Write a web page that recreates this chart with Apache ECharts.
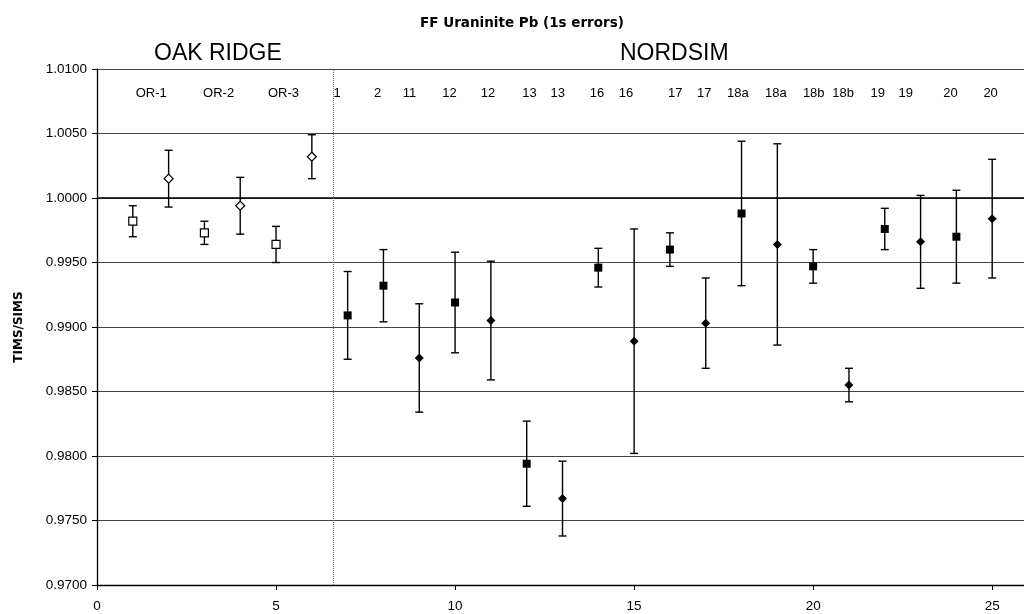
<!DOCTYPE html>
<html>
<head>
<meta charset="utf-8">
<script src="https://cdn.jsdelivr.net/npm/echarts@6/dist/echarts.min.js"></script>
<style>html,body{margin:0;padding:0;background:#fff;}#c{width:1024px;height:614px;}</style>
</head>
<body>
<div id="c"></div>
<script>
// ---- data ----
const xTicks = [0, 5, 10, 15, 20, 25];
const yTicks = [0.9700, 0.9750, 0.9800, 0.9850, 0.9900, 0.9950, 1.0000, 1.0050, 1.0100];
// [x, TIMS/SIMS, 1s error]
const oakRidgeSquares = [[1, 0.9982, 0.0012], [3, 0.9973, 0.0009], [5, 0.9964, 0.0014]];
const oakRidgeDiamonds = [[2, 1.0015, 0.0022], [4, 0.9994, 0.0022], [6, 1.0032, 0.0017]];
const nordsimSquares = [[7, 0.9909, 0.0034], [8, 0.9932, 0.0028], [10, 0.9919, 0.0039], [12, 0.9794, 0.0033],
  [14, 0.9946, 0.0015], [16, 0.9960, 0.0013], [18, 0.9988, 0.0056], [20, 0.9947, 0.0013],
  [22, 0.9976, 0.0016], [24, 0.9970, 0.0036]];
const nordsimDiamonds = [[9, 0.9876, 0.0042], [11, 0.9905, 0.0046], [13, 0.9767, 0.0029], [15, 0.9889, 0.0087],
  [17, 0.9903, 0.0035], [19, 0.9964, 0.0078], [21, 0.9855, 0.0013], [23, 0.9966, 0.0036], [25, 0.9984, 0.0046]];
const sampleLabels = ['OR-1', 'OR-2', 'OR-3', '1', '2', '11', '12', '12', '13', '13', '16', '16',
  '17', '17', '18a', '18a', '18b', '18b', '19', '19', '20', '20'];
const sampleLabelX = [1.53, 3.41, 5.22, 6.72, 7.85, 8.74, 9.86, 10.93, 12.09, 12.88, 13.98, 14.79,
  16.16, 16.97, 17.91, 18.97, 20.03, 20.85, 21.82, 22.6, 23.85, 24.97];
const groupLabels = ['OAK RIDGE', 'NORDSIM'];
const dividerX = 6.6;
const referenceY = 1.0000;

const FONT = '"Liberation Sans", Arial, sans-serif';
const WIDE = '"DejaVu Sans", sans-serif';

function errorSeries(data) {
  return {
    type: 'custom',
    data: data,
    z: 3,
    clip: false,
    renderItem: function (params, api) {
      const x = api.value(0), y = api.value(1), e = api.value(2);
      const hi = api.coord([x, y + e]);
      const lo = api.coord([x, y - e]);
      const w = 4;
      const style = { stroke: '#000', lineWidth: 1.4 };
      return {
        type: 'group',
        children: [
          { type: 'line', shape: { x1: hi[0], y1: hi[1], x2: lo[0], y2: lo[1] }, style: style },
          { type: 'line', shape: { x1: hi[0] - w, y1: hi[1], x2: hi[0] + w, y2: hi[1] }, style: style },
          { type: 'line', shape: { x1: lo[0] - w, y1: lo[1], x2: lo[0] + w, y2: lo[1] }, style: style }
        ]
      };
    }
  };
}

function pointSeries(data, symbol, size, filled) {
  return {
    type: 'scatter',
    data: data.map(d => [d[0], d[1]]),
    symbol: symbol,
    symbolSize: size,
    z: 5,
    itemStyle: filled ? { color: '#000', opacity: 1 } : { color: '#fff', borderColor: '#000', borderWidth: 1.2, opacity: 1 }
  };
}

const chart = echarts.init(document.getElementById('c'), null, { renderer: 'canvas' });
chart.setOption({
  animation: false,
  backgroundColor: '#fff',
  title: {
    text: 'FF Uraninite Pb (1s errors)',
    left: 517, top: 11, textAlign: 'center',
    textStyle: { fontFamily: WIDE, fontSize: 13.5, fontWeight: 'bold', color: '#000' }
  },
  graphic: [
    { type: 'text', left: 154, top: 42, style: { text: groupLabels[0], font: '23px ' + FONT, fill: '#000' } },
    { type: 'text', left: 620, top: 42, style: { text: groupLabels[1], font: '23px ' + FONT, fill: '#000' } }
  ],
  grid: { left: 97, top: 69, width: 931, bottom: 29, outerBoundsMode: 'none' },
  xAxis: {
    type: 'value', min: 0, max: 26, interval: 5,
    axisLine: { show: true, lineStyle: { color: '#000', width: 1.3 } },
    axisTick: { show: true, length: 5, lineStyle: { color: '#000' } },
    axisLabel: {
      margin: 14, fontFamily: FONT, fontSize: 13.5, color: '#000',
      formatter: v => xTicks.includes(v) ? String(v) : ''
    },
    splitLine: { show: false }
  },
  yAxis: {
    type: 'value', min: 0.97, max: 1.01, interval: 0.005,
    name: 'TIMS/SIMS', nameLocation: 'middle', nameGap: 72,
    nameTextStyle: { fontFamily: WIDE, fontSize: 12, fontWeight: 'bold', color: '#000' },
    axisLine: { show: true, lineStyle: { color: '#000', width: 1.3 } },
    axisTick: { show: true, length: 5, lineStyle: { color: '#000' } },
    axisLabel: {
      margin: 10, fontFamily: FONT, fontSize: 13.5, color: '#000',
      formatter: v => {
        const t = yTicks.find(t => Math.abs(t - v) < 1e-9);
        return t === undefined ? '' : t.toFixed(4);
      }
    },
    splitLine: { show: true, lineStyle: { color: '#444', width: 1 } }
  },
  series: [
    {
      type: 'scatter', data: [], silent: true,
      markLine: {
        silent: true, symbol: 'none', label: { show: false },
        data: [
          { yAxis: referenceY, lineStyle: { color: '#000', width: 1.6, type: 'solid' } },
          { xAxis: dividerX, lineStyle: { color: '#777', width: 1, type: [1, 1] } }
        ]
      }
    },
    errorSeries(oakRidgeSquares),
    errorSeries(oakRidgeDiamonds),
    errorSeries(nordsimSquares),
    errorSeries(nordsimDiamonds),
    pointSeries(oakRidgeSquares, 'rect', 8, false),
    pointSeries(oakRidgeDiamonds, 'diamond', 9, false),
    pointSeries(nordsimSquares, 'rect', 8, true),
    pointSeries(nordsimDiamonds, 'diamond', 9, true),
    {
      type: 'scatter', symbolSize: 1, silent: true,
      itemStyle: { opacity: 0 },
      data: sampleLabelX.map((x, i) => ({ value: [x, 1.0081], name: sampleLabels[i] })),
      label: {
        show: true, position: [0, 0], align: 'center', verticalAlign: 'middle',
        formatter: p => p.name, textBorderWidth: 0,
        fontFamily: FONT, fontSize: 13, color: '#000', opacity: 1
      }
    }
  ]
});
</script>
</body>
</html>
